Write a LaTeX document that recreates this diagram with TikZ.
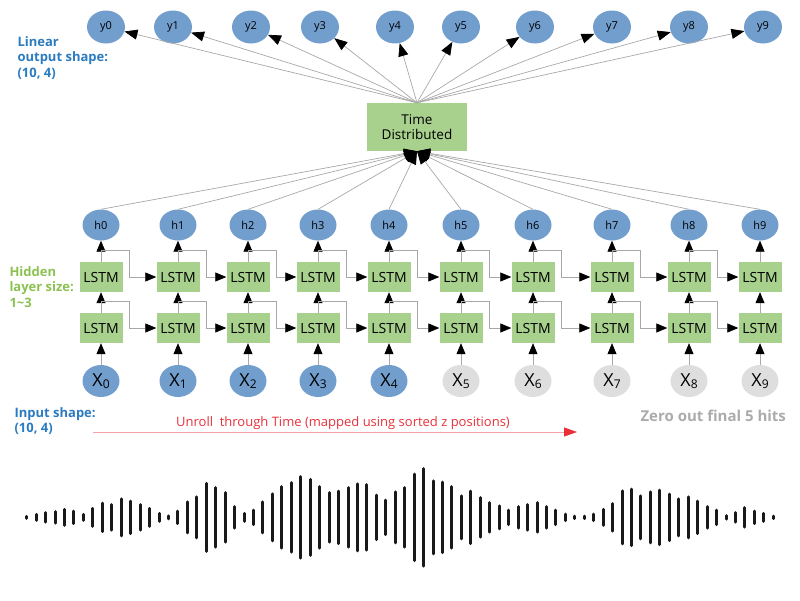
\documentclass[tikz,border=0pt]{standalone}
\usepackage{fontspec}
\setmainfont{Open Sans}
\usetikzlibrary{arrows.meta,shapes.geometric,calc}
\definecolor{nodeblue}{HTML}{729ECE}
\definecolor{nodegray}{HTML}{DEDEDE}
\definecolor{boxgreen}{HTML}{A9D18E}
\definecolor{edgegray}{HTML}{A8A8A8}
\definecolor{lblblue}{HTML}{2B7BC0}
\definecolor{lblgreen}{HTML}{8CC152}
\definecolor{lblgray}{HTML}{ABABAB}
\definecolor{unrollred}{HTML}{E8303A}
\definecolor{unrollpink}{HTML}{F5A3A6}
\begin{document}
\begin{tikzpicture}[x=1pt,y=-1pt,
  yell/.style={ellipse, fill=nodeblue, minimum width=38pt, minimum height=33pt, inner sep=0pt, font=\fontsize{11}{12}\selectfont},
  hell/.style={ellipse, fill=nodeblue, minimum width=37pt, minimum height=31pt, inner sep=0pt, font=\fontsize{11}{12}\selectfont},
  xell/.style={ellipse, minimum width=37pt, minimum height=32pt, inner sep=0pt},
  lstm/.style={rectangle, fill=boxgreen, minimum width=43pt, minimum height=30pt, inner sep=0pt, font=\fontsize{14}{15}\selectfont},
  tdbox/.style={rectangle, fill=boxgreen, minimum width=100pt, minimum height=48pt, inner sep=0pt, align=center, font=\fontsize{13.5}{15}\selectfont},
  edge/.style={draw=edgegray, line width=0.7pt, -{Triangle[length=11pt,width=9pt,color=black]}},
  bigedge/.style={draw=edgegray, line width=0.7pt, -{Triangle[length=13pt,width=10pt,color=black]}},
  lbl/.style={anchor=west, align=left, font=\bfseries\fontsize{13}{15.5}\selectfont},
  bar/.style={line width=3pt, line cap=round, black!90},
]
\useasboundingbox (0,0) rectangle (800,600);

% output nodes
\foreach \i/\x in {0/106,1/173,2/251,3/320,4/395,5/461,6/535,7/612,8/689,9/763}
  \node[yell] (y\i) at (\x,27) {y\i};

% time distributed
\node[tdbox] (td) at (417,127) {Time\\Distributed};

% columns
\foreach \i/\x in {0/101,1/178,2/248,3/318,4/389,5/461,6/533,7/612,8/689,9/760}{
  \node[hell] (h\i) at (\x,225) {h\i};
  \node[lstm] (u\i) at (\x,277) {LSTM};
  \node[lstm] (l\i) at (\x,328) {LSTM};
}
\foreach \i/\x in {0/101,1/178,2/248,3/318,4/389}
  \node[xell, fill=nodeblue] (x\i) at (\x,381) {{\fontsize{18}{18}\selectfont X}\raisebox{-1.5pt}{\fontsize{12}{12}\selectfont\i}};
\foreach \i/\x in {5/461,6/533,7/612,8/689,9/760}
  \node[xell, fill=nodegray] (x\i) at (\x,381) {{\fontsize{18}{18}\selectfont X}\raisebox{-1.5pt}{\fontsize{12}{12}\selectfont\i}};

% vertical edges
\foreach \i in {0,...,9}{
  \draw[edge] (x\i.north) -- (l\i.south);
  \draw[edge] (l\i.north) -- (u\i.south);
  \draw[edge] (u\i.north) -- (h\i.south);
  \draw[bigedge] (h\i.north) -- (td.south);
  \draw[bigedge] (td.north) -- (y\i);
}

% recurrent edges
\foreach \i [evaluate=\i as \j using int(\i+1)] in {0,...,8}{
  \draw[edge] (u\i.north) -- ++(0,-11) -| ($(u\i.east)+(7,0)$) -- (u\j.west);
  \draw[edge] (l\i.north) -- ++(0,-11) -| ($(l\i.east)+(7,0)$) -- (l\j.west);
}

% labels
\node[lbl, text=lblblue] (lin) at (14,58) {Linear\\output shape:\\(10, 4)};
\node[lbl, text=lblgreen] (hid) at (6,287) {Hidden\\layer size:\\1\textasciitilde3};
\node[lbl, text=lblblue] (inp) at (11,421) {Input shape:\\(10, 4)};
\node[anchor=west, text=lblgray, font=\bfseries\fontsize{15}{17}\selectfont] (zero) at (637,416) {Zero out final 5 hits};

% unroll arrow
\node[text=unrollred, font=\fontsize{13}{15}\selectfont] (unroll) at (343,423) {Unroll\ \ through Time (mapped using sorted z positions)};
\coordinate (ua) at (93,432);
\coordinate (ub) at (577,432);
\draw[draw=unrollpink, line width=0.8pt, -{Triangle[length=13pt,width=9pt,color=unrollred]}] (ua) -- (ub);

% waveform
\foreach \h [count=\k from 0] in {2.5,4.5,6.2,7.2,9.5,7.8,4.5,10.5,15.8,14.2,20,17.8,14.2,10.5,5.5,3,7.8,17,22,35.5,31.2,26.3,12.2,5.5,8.8,17,25,32.2,36.3,42.2,39.5,32.2,26.3,27.8,31.2,35,34.3,23.7,18.8,27,31.2,44.7,50.3,38,36.7,32.2,23,27.8,21.2,16.3,13,8.8,12.2,14.2,16.3,12.2,8.7,4.7,2.8,2.8,4.7,9.5,15.3,28,29.8,23,27,28.8,24.7,20,22,17.8,12.2,8.8,3.3,6.2,11.3,7.8,5.5,2.8}{
  \draw[bar] ({26.7+\k*9.45},{517.3-\h+1.5}) -- ({26.7+\k*9.45},{517.3+\h-1.5});
}
\end{tikzpicture}
\end{document}
